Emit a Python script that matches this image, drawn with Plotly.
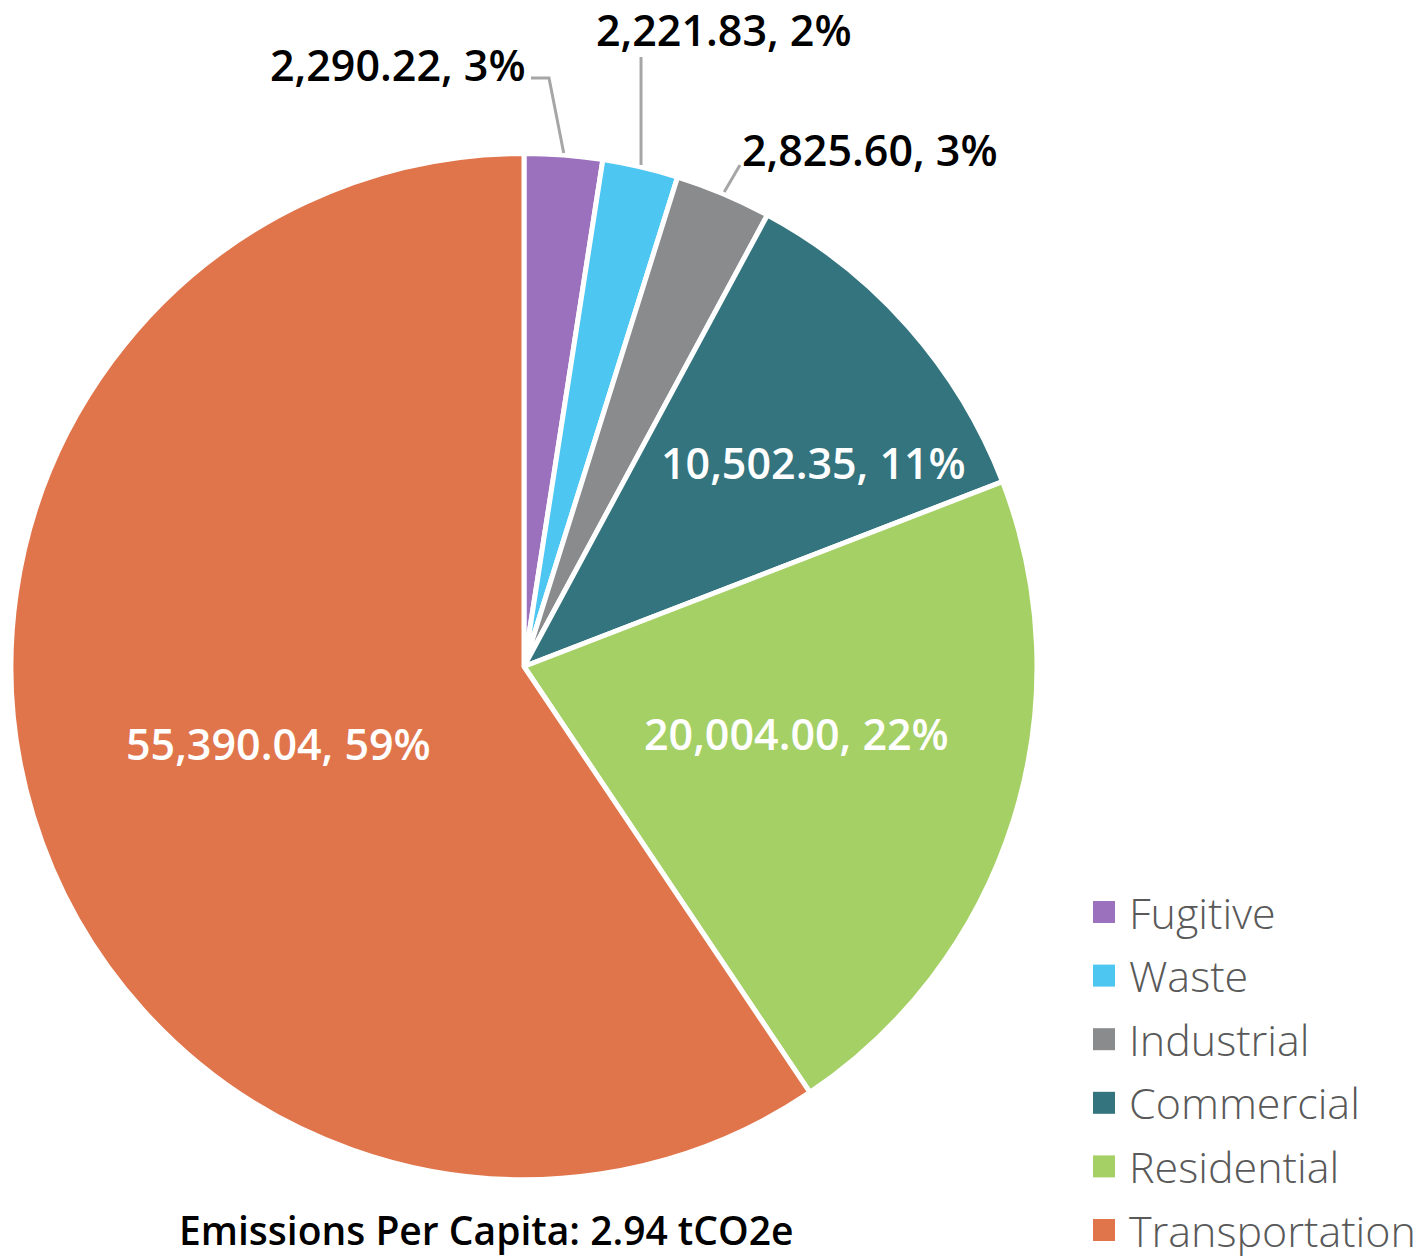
import math
import plotly.graph_objects as go

# ---------------- data ----------------
categories = ["Fugitive", "Waste", "Industrial", "Commercial", "Residential", "Transportation"]
values = [2290.22, 2221.83, 2825.60, 10502.35, 20004.00, 55390.04]
pct_labels = [3, 2, 3, 11, 22, 59]
colors = ["#9b70bc", "#4dc6f1", "#8a8b8d", "#33747e", "#a5d066", "#e0754b"]
footer_text = "Emissions Per Capita: 2.94 tCO2e"

# ---------------- layout constants ----------------
PAGE_OFF = 8            # default body margin of the html page
W, H = 1424 - PAGE_OFF, 1256 - PAGE_OFF
CX, CY, R = 524, 666.5, 513
FONT = "Open Sans"


def px(x):
    """window pixel x -> paper coordinate"""
    return (x - PAGE_OFF) / W


def py(y):
    """window pixel y -> paper coordinate"""
    return 1 - (y - PAGE_OFF) / H


total = sum(values)
mid_angles = []
acc = 0.0
for v in values:
    mid_angles.append((acc + v / 2) / total * 360.0)
    acc += v


def edge_point(angle_deg, r):
    a = math.radians(angle_deg)
    return CX + r * math.sin(a), CY - r * math.cos(a)


label_texts = [f"{v:,.2f}, {p}%" for v, p in zip(values, pct_labels)]

# label centres (window pixels) and text colours
label_pos = {
    0: (398, 65),
    1: (724, 29),
    2: (870, 149),
    3: (813, 462),
    4: (797, 733),
    5: (278, 743),
}
label_colors = ["#000000"] * 3 + ["#ffffff"] * 3

fig = go.Figure()
fig.add_trace(go.Pie(
    labels=categories,
    values=values,
    sort=False,
    direction="clockwise",
    rotation=0,
    marker=dict(colors=colors, line=dict(color="#ffffff", width=5)),
    textinfo="none",
    hovertemplate="%{label}: %{value:,.2f}<extra></extra>",
    showlegend=False,
    domain=dict(x=[px(CX - R), px(CX + R)], y=[py(CY + R), py(CY - R)]),
))

annotations = []
for i, txt in enumerate(label_texts):
    x, y = label_pos[i]
    annotations.append(dict(
        x=px(x), y=py(y), xref="paper", yref="paper",
        text=txt, showarrow=False, xanchor="center", yanchor="middle",
        font=dict(family=FONT, size=43, color=label_colors[i], weight=600),
    ))

annotations.append(dict(
    x=px(486), y=py(1229), xref="paper", yref="paper",
    text=footer_text, showarrow=False, xanchor="center", yanchor="middle",
    font=dict(family=FONT, size=39, color="#000000", weight=600),
))

# custom legend
shapes = []
row0, row_gap = 912, 63.6
for i, (cat, col) in enumerate(zip(categories, colors)):
    yc = row0 + i * row_gap
    shapes.append(dict(
        type="rect", xref="paper", yref="paper",
        x0=px(1093), x1=px(1115), y0=py(yc + 11), y1=py(yc - 11),
        fillcolor=col, line=dict(width=0),
    ))
    annotations.append(dict(
        x=px(1127), y=py(yc), xref="paper", yref="paper",
        text=cat, showarrow=False, xanchor="left", yanchor="middle",
        font=dict(family=FONT, size=43, color="#595959", weight=300),
    ))

# leader lines for outside labels
LC = "#a6a6a6"
p0 = edge_point(mid_angles[0], R + 2)
p1 = edge_point(mid_angles[1], R + 2)
p2 = edge_point(mid_angles[2], R + 2)
leaders = [
    [(531, 78), (549, 78), p0],
    [(p1[0], 57), p1],
    [(740, 165), p2],
]
for pts in leaders:
    path = "M " + " L ".join(f"{px(x)},{py(y)}" for x, y in pts)
    shapes.append(dict(type="path", xref="paper", yref="paper", path=path,
                       line=dict(color=LC, width=3)))

fig.update_layout(
    width=W, height=H,
    margin=dict(l=0, r=0, t=0, b=0),
    paper_bgcolor="#ffffff",
    plot_bgcolor="#ffffff",
    annotations=annotations,
    shapes=shapes,
    showlegend=False,
)

fig.write_html("out.html")
